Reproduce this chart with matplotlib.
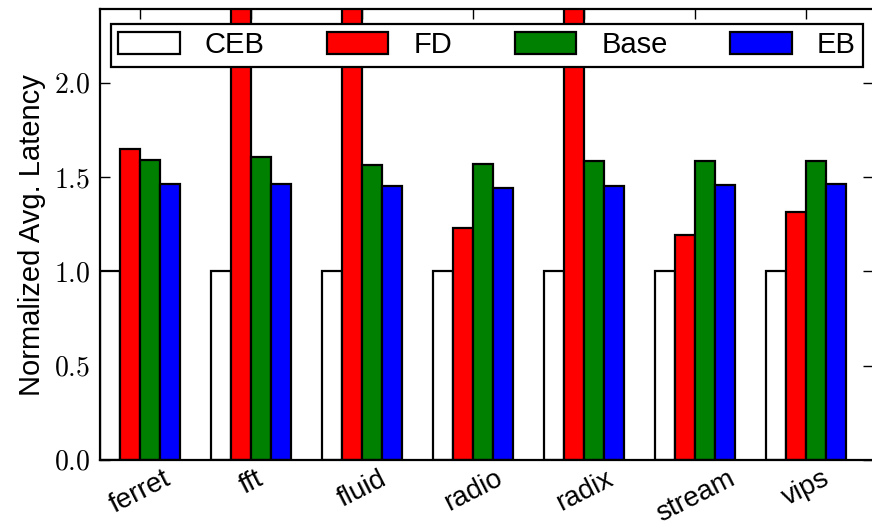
import matplotlib
matplotlib.use("Agg")
import matplotlib.pyplot as plt
import numpy as np
from matplotlib.ticker import FuncFormatter

benchmarks = ["ferret", "fft", "fluid", "radio", "radix", "stream", "vips"]
series_names = ["CEB", "FD", "Base", "EB"]
ceb = [1.0, 1.0, 1.0, 1.0, 1.0, 1.0, 1.0]
fd = [1.650, 2.80, 2.80, 1.228, 2.80, 1.195, 1.313]
base = [1.592, 1.605, 1.565, 1.570, 1.583, 1.583, 1.584]
eb = [1.466, 1.464, 1.451, 1.445, 1.455, 1.460, 1.462]
colors = ["white", "#ff0000", "#008000", "#0000ff"]
yticks = [0.0, 0.5, 1.0, 1.5, 2.0]

plt.rcParams["mathtext.fontset"] = "cm"
plt.rcParams["font.family"] = ["Liberation Sans", "DejaVu Sans"]

W, H = 872, 526
fig = plt.figure(figsize=(W / 100, H / 100), dpi=100)
ax_l, ax_r, ax_t, ax_b = 100, 873, 9.3, 460
ax = fig.add_axes([ax_l / W, 1 - ax_b / H, (ax_r - ax_l) / W, (ax_b - ax_t) / H])

x = np.arange(len(benchmarks))
w = 0.18
handles = []
for k, (vals, c) in enumerate(zip([ceb, fd, base, eb], colors)):
    b = ax.bar(x + k * w, vals, w, align="edge", color=c, edgecolor="black",
               linewidth=1.6, label=series_names[k], zorder=2)
    handles.append(b)

ax.set_xlim(0, 6.96)
ax.set_ylim(0, 2.39)
ax.set_yticks(yticks)
ax.yaxis.set_major_formatter(FuncFormatter(lambda v, p: r"$%.1f$" % v))
ax.set_xticks(x + 2 * w)
ax.set_xticklabels(benchmarks, rotation=27, ha="center", fontsize=20)
ax.tick_params(axis="both", direction="in", length=7, width=1.0,
               top=True, right=True, labelsize=20)
ax.tick_params(axis="x", pad=4)
ax.tick_params(axis="y", pad=7)
for s in ax.spines.values():
    s.set_linewidth(1.6)
    s.set_zorder(3)
ax.set_ylabel("Normalized Avg. Latency", fontsize=21, labelpad=6)

leg = ax.legend(handles=handles, loc="upper left", ncol=4, mode="expand",
                bbox_to_anchor=(0.0142, 0.9674, 0.9728, 0.0), borderaxespad=0,
                fontsize=21, handlelength=2.1, handleheight=0.76,
                handletextpad=0.86, fancybox=False, framealpha=1,
                edgecolor="black", borderpad=0.25)
leg.get_frame().set_linewidth(1.6)

fig.savefig("out.png", dpi=100)
